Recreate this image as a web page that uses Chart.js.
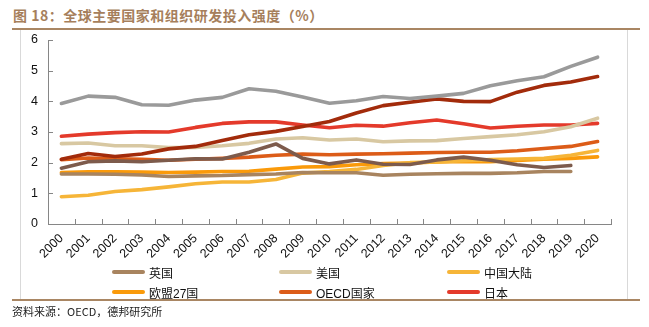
<!DOCTYPE html>
<html>
<head>
<meta charset="utf-8">
<script src="https://cdn.jsdelivr.net/npm/chart.js@4.4.0/dist/chart.umd.min.js"></script>
<style>
  html, body { margin:0; padding:0; background:#fff; }
  body { width:649px; height:327px; position:relative; overflow:hidden; font-family:"Liberation Sans","Noto Sans CJK SC",sans-serif; }
  #title { position:absolute; left:13px; top:5px; font-size:14px; font-weight:bold; color:#a67f5c; font-family:"Noto Sans CJK SC","Liberation Sans",sans-serif; letter-spacing:0.5px; white-space:nowrap; }
  #topline { position:absolute; left:12px; top:28px; width:628px; height:2px; background:#a98663; }
  #botline { position:absolute; left:12px; top:299px; width:628px; height:2px; background:#a98663; }
  #frameL { position:absolute; left:20px; top:30px; width:1px; height:269px; background:#d9d9d9; }
  #frameR { position:absolute; left:627px; top:30px; width:1px; height:269px; background:#d9d9d9; }
  #wrap { position:absolute; left:20px; top:30px; width:600px; height:240px; }
  #source { position:absolute; left:12px; top:303px; font-size:11px; color:#222; font-family:"Noto Sans CJK SC","Liberation Sans",sans-serif; white-space:nowrap; }
  .lg { position:absolute; height:14px; display:flex; align-items:center; font-size:12px; color:#111; white-space:nowrap; font-family:"Liberation Sans","Noto Sans CJK SC",sans-serif; }
  .lg span.sw { display:inline-block; width:33px; height:4px; border-radius:2px; margin-right:4px; }
</style>
</head>
<body>
<div id="title">图 18：全球主要国家和组织研发投入强度（%）</div>
<div id="topline"></div>
<div id="frameL"></div>
<div id="frameR"></div>
<div id="wrap"><canvas id="c" width="600" height="240"></canvas></div>
<div id="legend"></div>
<div id="botline"></div>
<div id="source">资料来源：OECD，德邦研究所</div>
<script>
// ---- data ----
const years = ['2000','2001','2002','2003','2004','2005','2006','2007','2008','2009','2010','2011','2012','2013','2014','2015','2016','2017','2018','2019','2020'];
const yTicks = [0,1,2,3,4,5,6];

const israel    = [3.93,4.17,4.13,3.89,3.87,4.04,4.13,4.41,4.33,4.14,3.94,4.02,4.16,4.09,4.17,4.26,4.51,4.67,4.80,5.14,5.44];
const korea     = [2.11,2.30,2.20,2.28,2.45,2.53,2.72,2.91,3.02,3.18,3.34,3.62,3.86,3.97,4.08,4.00,3.99,4.30,4.52,4.63,4.81];
const singapore = [1.82,2.03,2.06,2.03,2.08,2.13,2.12,2.34,2.61,2.14,1.96,2.09,1.95,1.94,2.09,2.18,2.08,1.93,1.84,1.91,null];
const uk        = [1.63,1.63,1.62,1.60,1.55,1.57,1.58,1.61,1.63,1.68,1.67,1.67,1.59,1.62,1.64,1.65,1.65,1.67,1.71,1.71,null];
const us        = [2.62,2.64,2.55,2.55,2.49,2.50,2.55,2.63,2.77,2.81,2.74,2.77,2.68,2.71,2.72,2.79,2.85,2.91,3.01,3.17,3.45];
const china     = [0.89,0.94,1.06,1.12,1.21,1.31,1.37,1.37,1.45,1.66,1.71,1.78,1.91,2.00,2.02,2.06,2.10,2.12,2.14,2.24,2.40];
const eu27      = [1.68,1.70,1.70,1.69,1.68,1.69,1.71,1.72,1.79,1.86,1.87,1.93,1.97,1.99,2.02,2.04,2.03,2.07,2.11,2.14,2.19];
const oecd      = [2.10,2.15,2.13,2.11,2.08,2.11,2.14,2.18,2.24,2.28,2.26,2.28,2.29,2.31,2.33,2.34,2.34,2.39,2.46,2.53,2.69];
const japan     = [2.86,2.93,2.98,3.01,3.00,3.15,3.28,3.33,3.33,3.23,3.14,3.22,3.19,3.30,3.39,3.27,3.13,3.19,3.23,3.23,3.28];

const seriesNames  = ['以色列','韩国','新加坡','英国','美国','中国大陆','欧盟27国','OECD国家','日本'];
const seriesData   = [israel, korea, singapore, uk, us, china, eu27, oecd, japan];
const seriesColors = ['#9a9a9a','#a22b0b','#7d5b4c','#a8845f','#d8c8a2','#f6b538','#fa9a0a','#dc5c18','#e43a2b'];
const legendNames  = ['英国','美国','中国大陆','欧盟27国','OECD国家','日本'];

// ---- legend (HTML) ----
const lgPos = [[112,265],[279,265],[447,265],[112,285],[279,285],[447,285]];
const lg = document.getElementById('legend');
legendNames.forEach((n,i)=>{
  const idx = seriesNames.indexOf(n);
  const d = document.createElement('div');
  d.className = 'lg';
  d.style.left = lgPos[i][0]+'px';
  d.style.top = lgPos[i][1]+'px';
  d.innerHTML = '<span class="sw" style="background:'+seriesColors[idx]+'"></span>'+n;
  lg.appendChild(d);
});

// ---- inward tick marks plugin ----
const inwardTicks = {
  id:'inwardTicks',
  afterDatasetsDraw(chart){
    const ctx = chart.ctx, xs = chart.scales.x, ys = chart.scales.y;
    ctx.save();
    ctx.strokeStyle = '#868686';
    ctx.lineWidth = 1;
    const n = xs.ticks.length;
    const w = (xs.right - xs.left)/n;
    for(let i=0;i<=n;i++){
      const x = Math.round(xs.left + i*w)+0.5;
      ctx.beginPath(); ctx.moveTo(x, ys.bottom); ctx.lineTo(x, ys.bottom-5); ctx.stroke();
    }
    yTicks.forEach(v=>{
      const y = Math.round(ys.getPixelForValue(v))+0.5;
      ctx.beginPath(); ctx.moveTo(xs.left, y); ctx.lineTo(xs.left+5, y); ctx.stroke();
    });
    ctx.restore();
  }
};

new Chart(document.getElementById('c'), {
  type:'line',
  data:{
    labels: years,
    datasets: seriesNames.map((n,i)=>({
      label:n, data:seriesData[i], borderColor:seriesColors[i], backgroundColor:seriesColors[i],
      borderWidth:3.6, pointRadius:0, tension:0, borderCapStyle:'round', borderJoinStyle:'round',
      spanGaps:false, fill:false
    }))
  },
  options:{
    responsive:false, animation:false, devicePixelRatio:1,
    layout:{ padding:{ top:10, right:9, left:0, bottom:0 } },
    plugins:{ legend:{ display:false }, tooltip:{ enabled:false } },
    scales:{
      x:{
        type:'category', offset:true,
        grid:{ display:false, drawTicks:false },
        border:{ display:true, color:'#868686', width:1 },
        ticks:{ autoSkip:false, maxRotation:45, minRotation:45, padding:7, color:'#111', font:{ family:'Liberation Sans', size:12.5 } },
        afterFit(s){ s.height = 46; }
      },
      y:{
        min:0, max:6,
        grid:{ display:false, drawTicks:false },
        border:{ display:true, color:'#868686', width:1 },
        ticks:{ stepSize:1, padding:10, color:'#111', font:{ family:'Liberation Sans', size:12.5 } },
        afterFit(s){ s.width = 28; s.paddingTop = 0; s.paddingBottom = 0; }
      }
    }
  },
  plugins:[inwardTicks]
});
</script>
</body>
</html>
